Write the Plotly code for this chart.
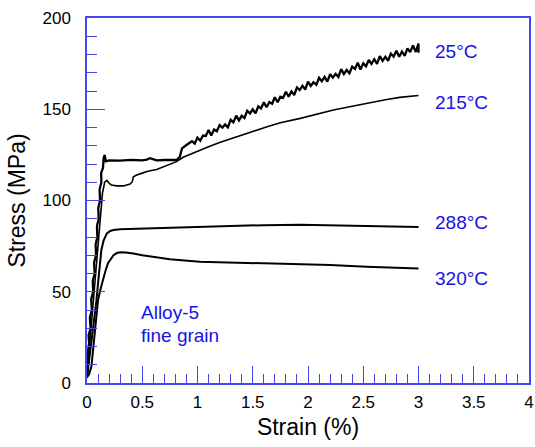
import plotly.graph_objects as go

# ---- data ----
strain_25 = [0.000, 0.012, 0.006, 0.020, 0.014, 0.032, 0.026, 0.044, 0.038, 0.056, 0.052, 0.070,
             0.064, 0.082, 0.078, 0.094, 0.090, 0.106, 0.102, 0.118, 0.114, 0.130, 0.128, 0.145,
             0.150, 0.160, 0.170, 0.20, 0.30, 0.40, 0.50, 0.54, 0.57, 0.60, 0.63, 0.70, 0.81,
             0.84, 0.86, 0.90, 0.95, 0.975,
             1.000, 1.025, 1.050, 1.075, 1.100, 1.125, 1.150, 1.175, 1.200, 1.225, 1.250, 1.275,
             1.300, 1.325, 1.350, 1.375, 1.400, 1.425, 1.450, 1.475, 1.500, 1.525, 1.550, 1.575,
             1.600, 1.625, 1.650, 1.675, 1.700, 1.725, 1.750, 1.775, 1.800, 1.825, 1.850, 1.875,
             1.900, 1.925, 1.950, 1.975, 2.000, 2.025, 2.050, 2.075, 2.100, 2.125, 2.150, 2.175,
             2.200, 2.225, 2.250, 2.275, 2.300, 2.325, 2.350, 2.375, 2.400, 2.425, 2.450, 2.475,
             2.500, 2.525, 2.550, 2.575, 2.600, 2.625, 2.650, 2.675, 2.700, 2.725, 2.750, 2.775,
             2.800, 2.825, 2.850, 2.875, 2.900, 2.925, 2.950, 2.975, 3.000, 3.000]
stress_25 = [5, 12, 16, 22, 26, 30, 36, 40, 46, 50, 56, 60,
             66, 70, 76, 80, 86, 90, 96, 100, 106, 110, 115, 118,
             123, 125, 121.5, 122, 121.8, 122.3, 122, 122.4, 123.2, 122.6, 122, 122.2, 122.2,
             124, 128.6, 130.4, 132.5, 131.2,
             134.5, 132.8, 135.6, 135.4, 138.6, 135.6, 138.9, 137.9, 141.3, 139.9, 141.7, 140.1,
             144.2, 142.8, 146.5, 143.9, 146.4, 145.2, 149.2, 147.7, 150.0, 147.7, 151.6, 150.4,
             153.8, 151.1, 153.9, 153.0, 156.6, 153.8, 156.9, 156.3, 159.6, 156.9, 159.8, 157.8,
             161.9, 160.5, 162.9, 160.8, 165.2, 162.8, 164.8, 163.4, 167.2, 165.3, 167.7, 165.1,
             169.2, 167.3, 169.4, 167.7, 172.0, 169.3, 171.5, 169.7, 173.4, 172.1, 175.5, 171.8,
             175.2, 173.5, 177.0, 174.9, 177.4, 174.9, 179.1, 176.5, 178.7, 176.6, 180.5, 178.8,
             182.1, 178.8, 181.6, 179.3, 183.4, 181.3, 185.0, 181.4, 186.0, 181.0]

strain_215 = [0.00, 0.02, 0.05, 0.08, 0.11, 0.14, 0.16, 0.18, 0.20, 0.22, 0.27, 0.33, 0.39, 0.41,
              0.42, 0.45, 0.50, 0.55, 0.63, 0.70, 0.75, 0.81, 0.87, 0.93, 0.99, 1.10, 1.20, 1.29,
              1.40, 1.50, 1.63, 1.75, 1.93, 2.05, 2.23, 2.40, 2.53, 2.70, 2.83, 3.00]
stress_215 = [4, 18, 40, 62, 85, 104, 110, 111, 109.5, 108.5, 108, 108, 109, 110.3,
              113, 114, 115, 116, 117, 118.8, 120, 121.3, 123.7, 125.3, 126.7, 129.5, 131.8, 133.5,
              135.8, 137.8, 140.4, 142.6, 145, 146.8, 149.6, 151.6, 153.3, 155.2, 156.5, 157.5]

strain_288 = [0.000, 0.010, 0.020, 0.030, 0.045, 0.060, 0.072, 0.085, 0.100, 0.115, 0.130, 0.150,
              0.180, 0.210, 0.240, 0.30, 0.50, 0.75, 1.02, 1.32, 1.60, 1.93, 2.20, 2.53, 2.80, 3.00]
stress_288 = [3, 8, 11, 16, 22, 30, 36, 45, 54.6, 64, 72.9, 78,
              82, 83.3, 83.8, 84.2, 84.6, 85, 85.3, 86.2, 86.5, 86.7, 86.5, 86.2, 85.8, 85.5]

strain_320 = [0.000, 0.020, 0.040, 0.055, 0.070, 0.085, 0.100, 0.125, 0.150, 0.170, 0.190, 0.215,
              0.240, 0.270, 0.300, 0.350, 0.420, 0.50, 0.60, 0.75, 1.02, 1.30, 1.60, 1.93, 2.20,
              2.53, 2.80, 3.00]
stress_320 = [3, 5, 9, 18, 27, 36, 45.5, 52, 58, 62, 65.6, 68,
              70, 71.2, 71.6, 71.5, 71, 70, 69, 67.8, 66.5, 66, 65.6, 65.2, 64.6,
              63.7, 63.2, 62.8]

curve_labels = ["25°C", "215°C", "288°C", "320°C"]
label_x = [3.13, 3.13, 3.13, 3.13]
label_y = [181.4, 153.7, 87.7, 57.0]
note_lines = ["Alloy-5", "fine grain"]
note_x = [0.47, 0.47]
note_y = [38.6, 26.0]

x_tickvals = [0, 0.5, 1, 1.5, 2, 2.5, 3, 3.5, 4]
x_ticktext = ["0", "0.5", "1", "1.5", "2", "2.5", "3", "3.5", "4"]
y_tickvals = [0, 50, 100, 150, 200]
y_ticktext = ["0", "50", "100", "150", "200"]

# ---- figure ----
AX = "rgb(70,70,235)"
TXT = "rgb(20,20,230)"
FONT = "Liberation Sans, Arial, sans-serif"

fig = go.Figure()
for xs, ys, w in [(strain_25, stress_25, 2.3), (strain_215, stress_215, 1.6),
                  (strain_288, stress_288, 2.0), (strain_320, stress_320, 2.0)]:
    fig.add_trace(go.Scatter(x=xs, y=ys, mode="lines",
                             line=dict(color="black", width=w), showlegend=False,
                             hoverinfo="skip", cliponaxis=False))

for t, x, y in zip(curve_labels, label_x, label_y):
    fig.add_annotation(x=x, y=y, text=t, showarrow=False, xanchor="left", yanchor="middle",
                       font=dict(family=FONT, size=19, color=TXT))
for t, x, y in zip(note_lines, note_x, note_y):
    fig.add_annotation(x=x, y=y, text=t, showarrow=False, xanchor="left", yanchor="middle",
                       font=dict(family=FONT, size=19, color=TXT))

fig.update_layout(
    width=535, height=447,
    margin=dict(l=87, r=6, t=18, b=64),
    paper_bgcolor="white", plot_bgcolor="white",
    font=dict(family=FONT, color="black"),
    xaxis=dict(range=[0, 4], tickvals=x_tickvals, ticktext=x_ticktext,
               ticks="inside", ticklen=17, tickwidth=1.2, tickcolor=AX,
               minor=dict(dtick=0.1, ticks="inside", ticklen=9, tickwidth=1.2, tickcolor=AX),
               showline=True, linecolor=AX, linewidth=1.5, mirror=True,
               showgrid=False, zeroline=False, automargin=False,
               tickfont=dict(size=17, family=FONT, color="black"),
               ticklabelstandoff=3,
               title=dict(text="Strain (%)", font=dict(size=23, family=FONT), standoff=8)),
    yaxis=dict(range=[0, 200], tickvals=y_tickvals, ticktext=y_ticktext,
               ticks="inside", ticklen=18, tickwidth=1.2, tickcolor=AX,
               minor=dict(dtick=10, ticks="inside", ticklen=10, tickwidth=1.2, tickcolor=AX),
               showline=True, linecolor=AX, linewidth=1.5, mirror=True,
               showgrid=False, zeroline=False, automargin=False,
               tickfont=dict(size=17, family=FONT, color="black"),
               ticklabelstandoff=11,
               title=dict(text="Stress (MPa)", font=dict(size=23, family=FONT), standoff=10)),
)

fig.write_html("out.html", config={"displayModeBar": False},
               post_script="document.body.style.margin='0';document.body.style.overflow='hidden';")
